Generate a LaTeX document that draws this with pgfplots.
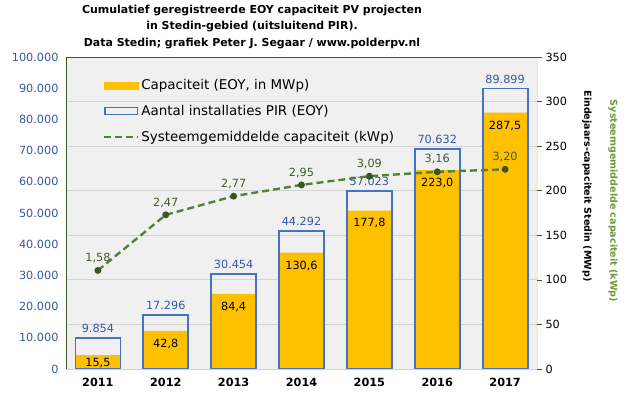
\documentclass[border=0pt]{standalone}
\usepackage{pgfplots}
\pgfplotsset{compat=1.18}
\usepackage{pgfplotstable}
\usepackage{fontspec}
\setmainfont{DejaVu Sans}
\definecolor{bggray}{HTML}{F0F0F0}
\definecolor{gridgray}{HTML}{D4D4D4}
\definecolor{framegreen}{HTML}{3E5A27}
\definecolor{orangeC}{HTML}{FFC000}
\definecolor{blueC}{HTML}{4472C4}
\definecolor{bluetext}{HTML}{3557A5}
\definecolor{linegreen}{HTML}{548235}
\definecolor{markgreen}{HTML}{375623}
\definecolor{lblgreen}{HTML}{3D5A2A}
\definecolor{axgreen}{HTML}{6A9A3A}

\pgfplotstableread{
x cap off
0 15.5 -8
1 42.8 -13
2 84.4 -13
3 130.6 -13
4 177.8 -13
5 223.0 -13
6 287.5 -13
}\captable
\pgfplotstableread{
x n
0 9854
1 17296
2 30454
3 44292
4 57023
5 70632
6 89899
}\ntable
\pgfplotstableread{
x avg
0 1.58
1 2.47
2 2.77
3 2.95
4 3.09
5 3.16
6 3.20
}\avgtable

\newcommand{\tf}{\fontsize{11.3}{13}\selectfont}

\begin{document}
\begin{tikzpicture}
\path[use as bounding box] (0,0) rectangle (630bp,398bp);
\pgfplotsset{
  base/.style={
    at={(66bp,29bp)}, anchor=south west,
    width=471bp, height=312bp, scale only axis,
    xmin=-0.47, xmax=6.47,
    /pgf/number format/assume math mode=true,
  }
}
% Axis A: capacity (MWp), right axis, background, grid
\begin{axis}[base,
  ymin=0, ymax=350, ytick={0,50,...,350},
  axis background/.style={fill=bggray},
  ymajorgrids, grid style={gridgray, line width=0.8pt},
  axis x line*=bottom, axis y line*=right,
  axis line style={draw=none},
  xtick={0,...,6}, xticklabels={2011,2012,2013,2014,2015,2016,2017},
  xtick style={draw=none},
  xticklabel style={font=\tf\bfseries, yshift=-1bp},
  yticklabel style={font=\tf, black},
  ytick style={draw=framegreen, line width=0.6pt},
  tick align=outside, major tick length=5bp,
]
\addplot[ybar, bar width=45bp, fill=orangeC, draw=none,
  nodes near coords,
  visualization depends on={\thisrow{off} \as \myoff},
  every node near coord/.append style={anchor=center, yshift=\myoff pt, font=\tf, black,
    /pgf/number format/fixed, /pgf/number format/fixed zerofill,
    /pgf/number format/precision=1, /pgf/number format/use comma},
] table[x=x, y=cap] {\captable};
\draw[gridgray, line width=0.8pt] (rel axis cs:0,0) -- (rel axis cs:1,0);
\draw[framegreen, line width=1pt] (rel axis cs:0,0) -- (rel axis cs:0,1) -- (rel axis cs:1,1) -- (rel axis cs:1,0);
\end{axis}
% Axis B: number of installations, left axis
\begin{axis}[base,
  ymin=0, ymax=100000, ytick={0,10000,...,100000},
  axis y line*=left, axis x line=none,
  axis line style={draw=none},
  ytick style={draw=none},
  scaled y ticks=false,
  yticklabel style={font=\tf, color=bluetext, xshift=-4bp,
    /pgf/number format/fixed, /pgf/number format/1000 sep={.}},
]
\addplot[ybar, bar width=45bp, fill=none, draw=blueC, line width=1.8pt,
  nodes near coords,
  every node near coord/.append style={anchor=south, yshift=1bp, font=\tf, color=bluetext,
    /pgf/number format/fixed, /pgf/number format/precision=0,
    /pgf/number format/1000 sep={.}},
] table[x=x, y=n] {\ntable};
\end{axis}
% Axis C: average system size (kWp), hidden
\begin{axis}[base,
  ymin=0, ymax=5, hide axis,
  legend style={at={(rel axis cs:0.078,0.935)}, anchor=north west, draw=none, fill=none,
    font=\fontsize{13.5}{15}\selectfont, row sep=10bp, inner xsep=0pt, inner ysep=0pt,
    cells={anchor=west}},
]
\addplot[forget plot, linegreen, line width=2.4pt, dash pattern=on 7bp off 4bp,
  mark=*, mark options={solid, fill=markgreen, draw=markgreen, scale=1.1},
  nodes near coords,
  every node near coord/.append style={anchor=south, yshift=3bp, font=\tf, color=lblgreen,
    /pgf/number format/fixed, /pgf/number format/fixed zerofill,
    /pgf/number format/precision=2, /pgf/number format/use comma},
] table[x=x, y=avg] {\avgtable};
\addlegendimage{legend image code/.code={\fill[orangeC] (-3bp,-3.5bp) rectangle (31bp,3.5bp);}}
\addlegendentry{Capaciteit (EOY, in MWp)}
\addlegendimage{legend image code/.code={\draw[blueC, line width=1.6pt] (-2.2bp,-3.5bp) rectangle (30.2bp,3.5bp);}}
\addlegendentry{Aantal installaties PIR (EOY)}
\addlegendimage{legend image code/.code={\draw[linegreen, line width=2.4pt, dash pattern=on 7bp off 4bp] (-3bp,0bp) -- (31bp,0bp);}}
\addlegendentry{Systeemgemiddelde capaciteit (kWp)}
\end{axis}
\node[align=center, font=\bfseries\fontsize{11}{16.5}\selectfont] at (252bp,371bp)
  {Cumulatief geregistreerde EOY capaciteit PV projecten\\in Stedin-gebied (uitsluitend PIR).\\Data Stedin; grafiek Peter J. Segaar / www.polderpv.nl};
\node[rotate=-90, font=\bfseries\fontsize{9.6}{11}\selectfont] at (587bp,212bp) {Eindejaars-capaciteit Stedin (MWp)};
\node[rotate=-90, font=\bfseries\fontsize{9.6}{11}\selectfont, color=axgreen] at (613bp,197bp) {Systeemgemiddelde capaciteit (kWp)};
\end{tikzpicture}
\end{document}
